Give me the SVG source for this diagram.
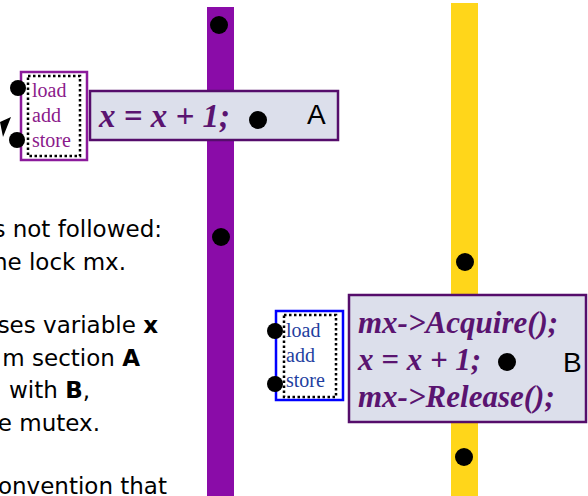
<svg xmlns="http://www.w3.org/2000/svg" width="588" height="496" viewBox="0 0 588 496">
  <style>
    .note { font-family: "DejaVu Sans", Verdana, sans-serif; font-size: 23px; fill: #000; }
    .code { font-family: "Liberation Serif", "Times New Roman", serif; font-weight: bold; font-style: italic; fill: #5a1470; }
    .label { font-family: "Liberation Sans", Arial, sans-serif; font-size: 28px; fill: #000; }
    .ops { font-family: "Liberation Serif", "Times New Roman", serif; font-size: 20px; }
    .codebox { fill: #dcdfeb; stroke: #550d6b; stroke-width: 2.5; }
    .inner { fill: none; stroke: #000; stroke-width: 2.5; stroke-dasharray: 2.5 2.5; }
    .dot { fill: #000; }
  </style>

  <rect width="588" height="496" fill="#fff"/>

  <!-- thread timelines -->
  <g id="thread-a-line">
    <rect x="207" y="7" width="27" height="489" fill="#8a0ca8"/>
    <circle class="dot" cx="219" cy="25" r="9"/>
    <circle class="dot" cx="221" cy="237" r="9"/>
  </g>
  <g id="thread-b-line">
    <rect x="451" y="3" width="27" height="493" fill="#ffd61a"/>
    <circle class="dot" cx="465" cy="262" r="9"/>
    <circle class="dot" cx="464" cy="457" r="9"/>
  </g>

  <!-- connectors -->
  <g id="connectors">
    <polygon points="0,122 11,117 3,137" fill="#000"/>
  </g>

  <!-- machine ops for section A -->
  <g id="ops-a">
    <rect x="21" y="72" width="66" height="88" fill="#fff" stroke="#8b1a9b" stroke-width="2.5"/>
    <rect class="inner" x="28" y="76" width="52" height="80"/>
    <text class="ops" fill="#8b1a8b" x="32" y="97">load</text>
    <text class="ops" fill="#8b1a8b" x="32" y="122">add</text>
    <text class="ops" fill="#8b1a8b" x="32" y="147">store</text>
    <circle class="dot" cx="18" cy="88" r="8"/>
    <circle class="dot" cx="17" cy="140" r="8"/>
  </g>

  <!-- critical section A -->
  <g id="section-a">
    <rect class="codebox" x="90" y="91" width="248" height="49"/>
    <text class="code" x="99" y="127" font-size="33">x = x + 1;</text>
    <circle class="dot" cx="258" cy="120" r="9"/>
    <text class="label" x="307" y="124">A</text>
  </g>

  <!-- machine ops for section B -->
  <g id="ops-b">
    <rect x="276" y="311" width="67" height="89" fill="#fff" stroke="#0000ff" stroke-width="2.5"/>
    <rect class="inner" x="284" y="315" width="52" height="82"/>
    <text class="ops" fill="#1f3fa0" x="286" y="337">load</text>
    <text class="ops" fill="#1f3fa0" x="286" y="362">add</text>
    <text class="ops" fill="#1f3fa0" x="286" y="387">store</text>
    <circle class="dot" cx="275" cy="331" r="8"/>
    <circle class="dot" cx="275" cy="384" r="8"/>
  </g>

  <!-- critical section B -->
  <g id="section-b">
    <rect class="codebox" x="349" y="295" width="237" height="127"/>
    <text class="code" x="358" y="333" font-size="31">mx-&gt;Acquire();</text>
    <text class="code" x="358" y="370" font-size="31">x = x + 1;</text>
    <text class="code" x="358" y="407" font-size="31">mx-&gt;Release();</text>
    <circle class="dot" cx="507" cy="362" r="9"/>
    <text class="label" x="563" y="372">B</text>
  </g>

  <!-- explanatory notes -->
  <g id="notes">
    <text class="note" x="162" y="237" text-anchor="end">s not followed:</text>
    <text class="note" x="126" y="270" text-anchor="end">he lock mx.</text>
    <text class="note" x="158" y="333" text-anchor="end">ses variable <tspan font-weight="bold">x</tspan></text>
    <text class="note" x="140" y="366" text-anchor="end">m section <tspan font-weight="bold">A</tspan></text>
    <text class="note" x="90" y="398" text-anchor="end">with <tspan font-weight="bold">B</tspan>,</text>
    <text class="note" x="100" y="431" text-anchor="end">e mutex.</text>
    <text class="note" x="167" y="494" text-anchor="end">onvention that</text>
  </g>
</svg>
